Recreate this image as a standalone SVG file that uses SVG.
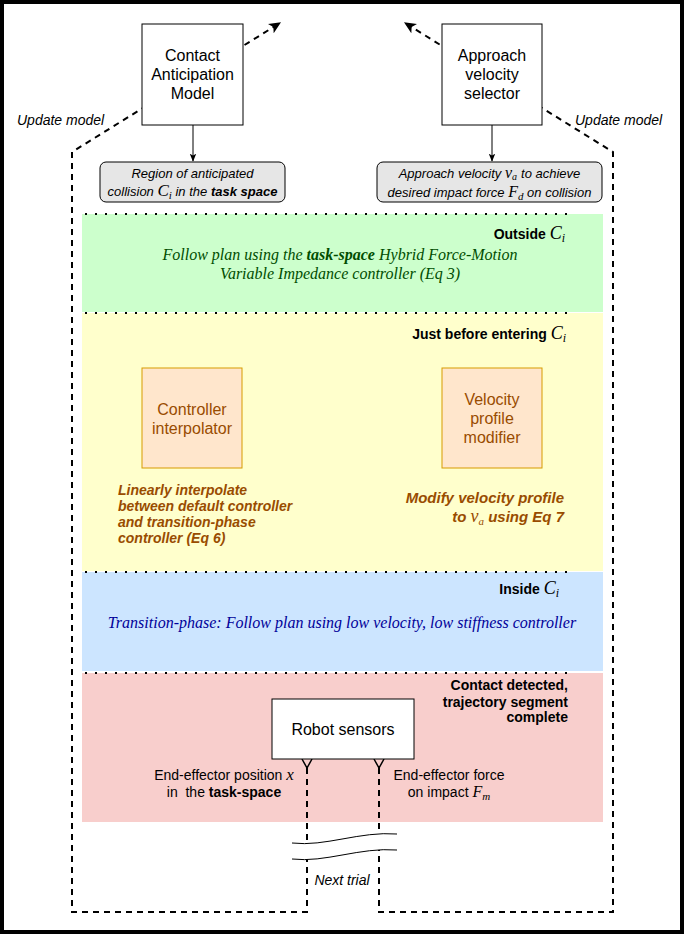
<svg xmlns="http://www.w3.org/2000/svg" width="684" height="934" viewBox="0 0 684 934">
<defs>
<style>
.sans{font-family:"Liberation Sans",Arial,sans-serif;}
.lbl{font-family:"Liberation Sans",Arial,sans-serif;font-size:16px;fill:#000;text-anchor:middle;}
.brn{fill:#994C00;}
.hdr{font-family:"Liberation Sans",Arial,sans-serif;font-size:14px;font-weight:bold;fill:#000;text-anchor:end;}
.m{font-family:"Liberation Serif","Times New Roman",serif;font-style:italic;font-weight:normal;}
.dot{stroke:#000;stroke-width:2;stroke-dasharray:2 8;fill:none;}
.dash{stroke:#000;stroke-width:2;stroke-dasharray:6 5;fill:none;}
.box{fill:#fff;stroke:#000;stroke-width:1;}
.obox{fill:#ffe6cc;stroke:#d79b00;stroke-width:1;}
.gbox{fill:#e6e6e6;stroke:#000;stroke-width:1;}
</style>
<marker id="arr" viewBox="0 0 10 10" refX="9" refY="5" markerWidth="8" markerHeight="8" markerUnits="userSpaceOnUse" orient="auto">
<path d="M0,1 L10,5 L0,9 L2,5 Z" fill="#000"/>
</marker>
<marker id="arrBig" viewBox="0 0 10 10" refX="9" refY="5" markerWidth="12" markerHeight="12" markerUnits="userSpaceOnUse" orient="auto">
<path d="M0,0.5 L10,5 L0,9.5 L2.5,5 Z" fill="#000"/>
</marker>
</defs>
<rect x="0" y="0" width="684" height="934" fill="#fff"/>
<rect x="2" y="2" width="680" height="930" fill="none" stroke="#000" stroke-width="4"/>

<g id="panels">
<rect x="82" y="214" width="521" height="98" fill="#ccffcc"/>
<rect x="82" y="313" width="521" height="258" fill="#ffffcc"/>
<rect x="82" y="572" width="521" height="99" fill="#cce5ff"/>
<rect x="82" y="673" width="521" height="149" fill="#f8cecc"/>
<line class="dot" x1="85" y1="214" x2="575" y2="214"/>
<line class="dot" x1="85" y1="313" x2="575" y2="313"/>
<line class="dot" x1="85" y1="572" x2="575" y2="572"/>
<line class="dot" x1="85" y1="673" x2="575" y2="673"/>
</g>

<g id="connectors">
<path class="dash" d="M307,768 V912 H72 V152 L280,23" marker-end="url(#arrBig)"/>
<path class="dash" d="M379,768 V912 H613 V152 L405,23" marker-end="url(#arrBig)"/>
<line x1="193" y1="125" x2="193" y2="161" stroke="#000" stroke-width="1" marker-end="url(#arr)"/>
<line x1="492" y1="125" x2="492" y2="161" stroke="#000" stroke-width="1" marker-end="url(#arr)"/>
<path d="M302,759 L307,768 L312,759 M374,759 L379,768 L384,759" fill="none" stroke="#000" stroke-width="1.5"/>
<path d="M292,843 C325,847 360,831 397,834 L397,850 C360,847 325,863 292,859 Z" fill="#fff"/>
<path d="M292,843 C325,847 360,831 397,834 M292,859 C325,863 360,847 397,850" fill="none" stroke="#000" stroke-width="1"/>
</g>

<g id="contact-model">
<rect class="box" x="142" y="24" width="101" height="101"/>
<text class="lbl" x="192.5" y="61">Contact</text>
<text class="lbl" x="192.5" y="80">Anticipation</text>
<text class="lbl" x="192.5" y="99">Model</text>
</g>

<g id="approach-selector">
<rect class="box" x="442" y="24" width="100" height="101"/>
<text class="lbl" x="492" y="61">Approach</text>
<text class="lbl" x="492" y="80">velocity</text>
<text class="lbl" x="492" y="99">selector</text>
</g>

<g id="update-labels">
<text class="sans" x="17" y="125" font-size="14" font-style="italic">Update model</text>
<text class="sans" x="575" y="125" font-size="14" font-style="italic">Update model</text>
</g>

<g id="region-box">
<rect class="gbox" x="100" y="162" width="185" height="40" rx="6"/>
<text class="sans" x="192.5" y="178" font-size="13" font-style="italic" text-anchor="middle">Region of anticipated</text>
<text class="sans" x="192.5" y="196" font-size="13" font-style="italic" text-anchor="middle">collision <tspan class="m" font-size="17">C</tspan><tspan class="m" font-size="11" dy="3">i</tspan><tspan dy="-3"> in the </tspan><tspan font-weight="bold">task space</tspan></text>
</g>

<g id="velocity-box">
<rect class="gbox" x="377" y="162" width="225" height="40" rx="6"/>
<text class="sans" x="489.5" y="178" font-size="13" font-style="italic" text-anchor="middle">Approach velocity <tspan class="m" font-size="16">v</tspan><tspan class="m" font-size="10" dy="2">a</tspan><tspan dy="-2" dx="4">to achieve</tspan></text>
<text class="sans" x="489.5" y="197" font-size="13" font-style="italic" text-anchor="middle">desired impact force <tspan class="m" font-size="16">F</tspan><tspan class="m" font-size="11" dy="3">d</tspan><tspan dy="-3"> on collision</tspan></text>
</g>

<g id="outside">
<text class="hdr" x="565" y="239">Outside <tspan class="m" font-size="18">C</tspan><tspan class="m" font-size="12" dy="3">i</tspan></text>
<text x="340" y="260" font-family="Liberation Serif,Times New Roman,serif" font-size="16" font-style="italic" fill="#004d00" text-anchor="middle">Follow plan using the <tspan font-weight="bold">task-space</tspan> Hybrid Force-Motion</text>
<text x="340" y="279" font-family="Liberation Serif,Times New Roman,serif" font-size="16" font-style="italic" fill="#004d00" text-anchor="middle">Variable Impedance controller (Eq 3)</text>
</g>

<g id="before">
<text class="hdr" x="566" y="339">Just before entering <tspan class="m" font-size="18">C</tspan><tspan class="m" font-size="12" dy="3">i</tspan></text>
</g>

<g id="controller-interpolator">
<rect class="obox" x="142" y="368" width="100" height="100"/>
<text class="lbl brn" x="192" y="415">Controller</text>
<text class="lbl brn" x="192" y="434">interpolator</text>
</g>

<g id="velocity-modifier">
<rect class="obox" x="442" y="368" width="100" height="100"/>
<text class="lbl brn" x="492" y="405">Velocity</text>
<text class="lbl brn" x="492" y="424">profile</text>
<text class="lbl brn" x="492" y="443">modifier</text>
</g>

<g id="before-notes">
<text class="sans brn" font-size="14" font-weight="bold" font-style="italic">
<tspan x="118" y="495">Linearly interpolate</tspan>
<tspan x="118" y="511">between default controller</tspan>
<tspan x="118" y="527">and transition-phase</tspan>
<tspan x="118" y="543">controller (Eq 6)</tspan>
</text>
<text class="sans brn" x="564" y="503" font-size="15" font-weight="bold" font-style="italic" text-anchor="end">Modify velocity profile</text>
<text class="sans brn" x="564" y="522" font-size="15" font-weight="bold" font-style="italic" text-anchor="end">to <tspan class="m" font-size="18">v</tspan><tspan class="m" font-size="11" dy="3">a</tspan><tspan dy="-3"> using Eq 7</tspan></text>
</g>

<g id="inside">
<text class="hdr" x="559" y="594">Inside <tspan class="m" font-size="18">C</tspan><tspan class="m" font-size="12" dy="3">i</tspan></text>
<text x="342" y="628" font-family="Liberation Serif,Times New Roman,serif" font-size="16" font-style="italic" fill="#000099" text-anchor="middle">Transition-phase: Follow plan using low velocity, low stiffness controller</text>
</g>

<g id="contact">
<text class="hdr" x="568" y="690">Contact detected,</text>
<text class="hdr" x="568" y="707">trajectory segment</text>
<text class="hdr" x="568" y="722">complete</text>
</g>

<g id="robot-sensors">
<rect class="box" x="272" y="699" width="142" height="60"/>
<text class="lbl" x="343" y="735">Robot sensors</text>
</g>

<g id="sensor-labels">
<text class="sans" x="224" y="780" font-size="14" text-anchor="middle">End-effector position <tspan class="m" font-size="17">x</tspan></text>
<text class="sans" x="224" y="797" font-size="14" text-anchor="middle">in&#160; the <tspan font-weight="bold">task-space</tspan></text>
<text class="sans" x="449" y="780" font-size="14" text-anchor="middle">End-effector force</text>
<text class="sans" x="449" y="797" font-size="14" text-anchor="middle">on impact <tspan class="m" font-size="16">F</tspan><tspan class="m" font-size="11" dy="3">m</tspan></text>
<text class="sans" x="342" y="885" font-size="14" font-style="italic" text-anchor="middle">Next trial</text>
</g>
</svg>
